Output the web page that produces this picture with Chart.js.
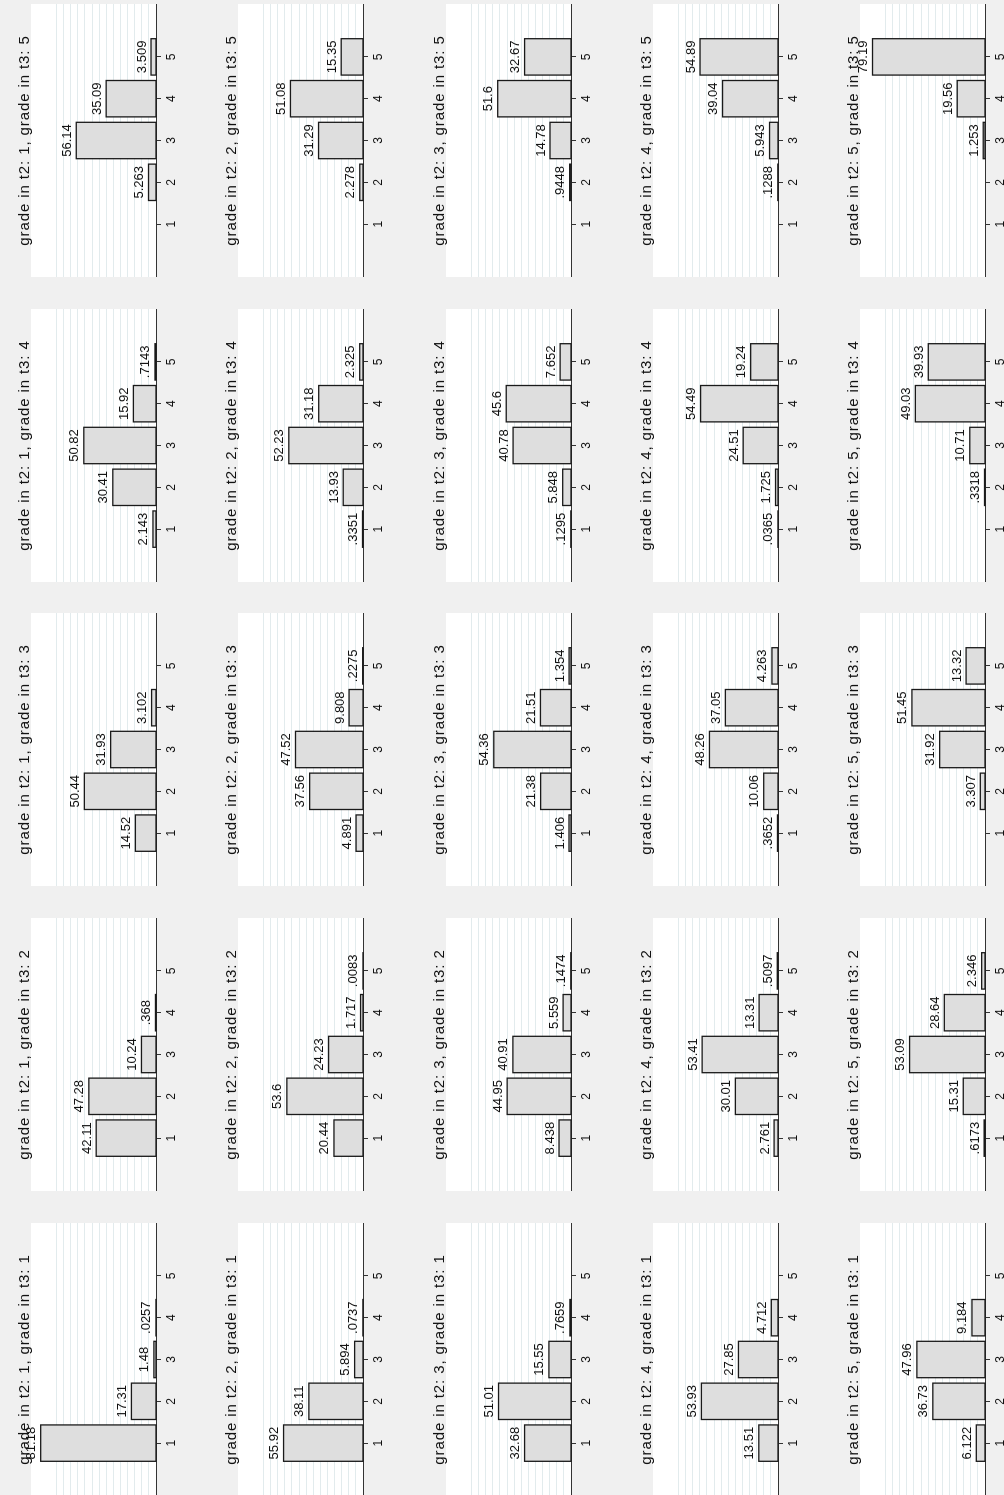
<!DOCTYPE html>
<html>
<head>
<meta charset="utf-8">
<script src="https://cdn.jsdelivr.net/npm/chart.js@4.4.0/dist/chart.umd.min.js"></script>
<style>
  html, body { margin: 0; padding: 0; background: #f0f0f0; overflow: hidden; }
  /* the 5x5 panel sheet is laid out landscape, then turned a quarter turn */
  #sheet {
    position: absolute; left: 0; top: 0;
    width: 1495px; height: 1004px;
    transform-origin: 0 0;
    transform: translate(0, 1495px) rotate(-90deg);
  }
  #sheet canvas { position: absolute; }
</style>
</head>
<body>
<div id="sheet"></div>
<script>
// grade categories on each panel's axis
const grades = [1, 2, 3, 4, 5];
// horizontal reference lines (percent)
const gridValues = [5, 10, 15, 20, 25, 30, 35, 40, 45, 50, 55, 60, 65, 70];
const t2Grades = [1, 2, 3, 4, 5];
const t3Grades = [1, 2, 3, 4, 5];

// percent of students per grade; one row per grade in t3 (1..5)
const pctT2g1 = [
  [81.18, 17.31, 1.48, 0.0257, null],
  [42.11, 47.28, 10.24, 0.368, null],
  [14.52, 50.44, 31.93, 3.102, null],
  [2.143, 30.41, 50.82, 15.92, 0.7143],
  [null, 5.263, 56.14, 35.09, 3.509]
];
const pctT2g2 = [
  [55.92, 38.11, 5.894, 0.0737, null],
  [20.44, 53.6, 24.23, 1.717, 0.0083],
  [4.891, 37.56, 47.52, 9.808, 0.2275],
  [0.3351, 13.93, 52.23, 31.18, 2.325],
  [null, 2.278, 31.29, 51.08, 15.35]
];
const pctT2g3 = [
  [32.68, 51.01, 15.55, 0.7659, null],
  [8.438, 44.95, 40.91, 5.559, 0.1474],
  [1.406, 21.38, 54.36, 21.51, 1.354],
  [0.1295, 5.848, 40.78, 45.6, 7.652],
  [null, 0.9448, 14.78, 51.6, 32.67]
];
const pctT2g4 = [
  [13.51, 53.93, 27.85, 4.712, null],
  [2.761, 30.01, 53.41, 13.31, 0.5097],
  [0.3652, 10.06, 48.26, 37.05, 4.263],
  [0.0365, 1.725, 24.51, 54.49, 19.24],
  [null, 0.1288, 5.943, 39.04, 54.89]
];
const pctT2g5 = [
  [6.122, 36.73, 47.96, 9.184, null],
  [0.6173, 15.31, 53.09, 28.64, 2.346],
  [null, 3.307, 31.92, 51.45, 13.32],
  [null, 0.3318, 10.71, 49.03, 39.93],
  [null, null, 1.253, 19.56, 79.19]
];
const pctByT2 = [pctT2g1, pctT2g2, pctT2g3, pctT2g4, pctT2g5];

const FONT = "'Liberation Sans', Arial, Helvetica, sans-serif";

// 4 significant digits, no trailing zeros, no leading zero (".0257")
function fmtValue(v) {
  let s = Number(v.toPrecision(4)).toString();
  if (s.startsWith('0.')) s = s.slice(1);
  return s;
}

// white plot region, outlined bars with value labels, panel heading
const panelDecor = {
  id: 'panelDecor',
  beforeDraw(chart) {
    const a = chart.chartArea, ctx = chart.ctx;
    ctx.save();
    ctx.fillStyle = '#ffffff';
    ctx.fillRect(a.left, a.top, a.right - a.left, a.bottom - a.top);
    ctx.restore();
  },
  afterDatasetsDraw(chart) {
    const ctx = chart.ctx;
    const meta = chart.getDatasetMeta(0);
    const ds = chart.data.datasets[0];
    ctx.save();
    meta.data.forEach((bar, i) => {
      const p = bar.getProps(['x', 'y', 'base', 'width'], true);
      ctx.lineWidth = 1.3;
      ctx.strokeStyle = '#1a1a1a';
      ctx.strokeRect(p.x - p.width / 2, p.y, p.width, p.base - p.y);
      ctx.fillStyle = '#111';
      ctx.font = '13px ' + FONT;
      ctx.textAlign = 'center';
      ctx.textBaseline = 'alphabetic';
      ctx.fillText(fmtValue(ds.data[i].y), p.x, p.y - 5.5);
    });
    ctx.restore();
  },
  afterDraw(chart) {
    const a = chart.chartArea, ctx = chart.ctx;
    const o = chart.options.plugins.panelDecor;
    ctx.save();
    ctx.fillStyle = '#111';
    ctx.font = '15px ' + FONT;
    if ('letterSpacing' in ctx) ctx.letterSpacing = '0.9px';
    ctx.textAlign = 'center';
    ctx.textBaseline = 'alphabetic';
    ctx.fillText(o.heading, (a.left + a.right) / 2, 29);
    ctx.restore();
  }
};

const sheet = document.getElementById('sheet');

t2Grades.forEach((g2, r) => {
  t3Grades.forEach((g3, c) => {
    const values = pctByT2[r][c];
    const canvas = document.createElement('canvas');
    canvas.width = 273;
    canvas.height = 185;
    canvas.style.left = Math.round(-0.8 + c * 304.7) + 'px';
    canvas.style.top = Math.round(r * 207.3) + 'px';
    sheet.appendChild(canvas);

    const points = values
      .map((v, i) => ({ x: grades[i], y: v }))
      .filter(pt => pt.y !== null);

    new Chart(canvas, {
      type: 'bar',
      data: {
        datasets: [{
          data: points,
          backgroundColor: '#dedede',
          borderWidth: 0,
          barPercentage: 0.87,
          categoryPercentage: 1.0
        }]
      },
      options: {
        responsive: false,
        animation: false,
        events: [],
        layout: { padding: { top: 31, left: 0, right: 0, bottom: 0 } },
        plugins: {
          legend: { display: false },
          tooltip: { enabled: false },
          title: { display: false },
          panelDecor: { heading: `grade in t2: ${g2}, grade in t3: ${g3}` }
        },
        scales: {
          x: {
            type: 'linear',
            offset: false,
            min: -0.265,
            max: 6.265,
            afterBuildTicks: s => { s.ticks = grades.map(v => ({ value: v })); },
            afterFit: s => { s.height = 29; },
            ticks: {
              color: '#111',
              font: { family: FONT, size: 12 },
              padding: 3,
              maxRotation: 0,
              autoSkip: false
            },
            grid: {
              display: true,
              offset: false,
              drawOnChartArea: false,
              drawTicks: true,
              tickLength: 5,
              color: '#333',
              lineWidth: 1
            },
            border: { display: true, color: '#333', width: 1 }
          },
          y: {
            type: 'linear',
            min: 0,
            max: 88,
            afterBuildTicks: s => { s.ticks = gridValues.map(v => ({ value: v })); },
            afterFit: s => { s.width = 0; },
            ticks: { display: false },
            grid: { color: '#e2ebed', lineWidth: 1, drawTicks: false },
            border: { display: false }
          }
        }
      },
      plugins: [panelDecor]
    });
  });
});
</script>
</body>
</html>
